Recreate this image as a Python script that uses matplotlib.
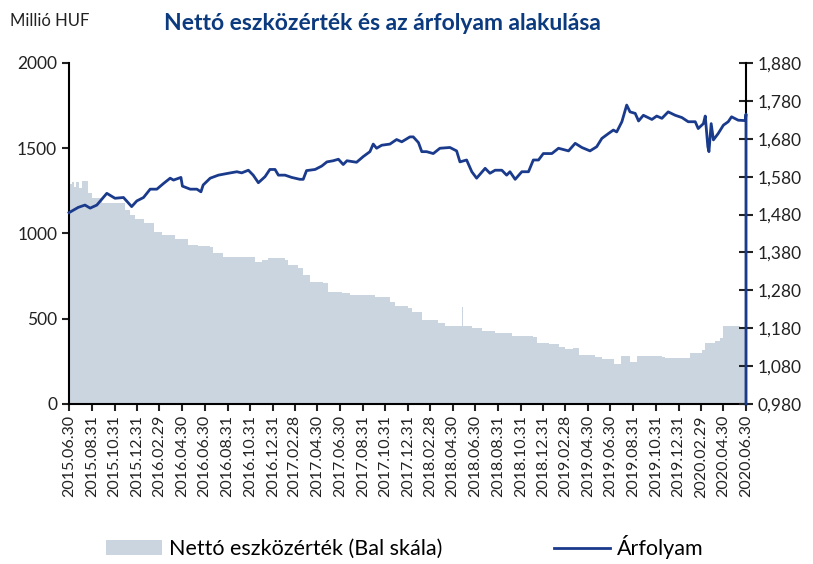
import pandas as pd
import matplotlib.pyplot as plt
import matplotlib.dates as mdates
from matplotlib.ticker import FuncFormatter

plt.rcParams['font.family'] = ['Lato', 'DejaVu Sans']

# Nettó eszközérték (millió HUF), lépcsős sor
nav_dates = ['2015-06-30', '2015-07-07', '2015-07-13', '2015-07-19', '2015-07-27', '2015-08-04',
             '2015-08-20', '2015-08-30', '2015-09-26', '2015-11-10', '2015-11-28', '2015-12-12',
             '2015-12-25', '2016-01-17', '2016-02-13', '2016-03-06', '2016-04-11', '2016-05-17',
             '2016-06-13', '2016-07-15', '2016-07-23', '2016-08-19', '2016-11-13', '2016-12-01',
             '2016-12-19', '2017-02-02', '2017-02-11', '2017-03-10', '2017-03-23', '2017-04-10',
             '2017-05-16', '2017-05-30', '2017-07-05', '2017-07-27', '2017-10-03', '2017-11-12',
             '2017-11-26', '2018-01-01', '2018-01-10', '2018-02-06', '2018-03-23', '2018-04-10',
             '2018-05-26', '2018-05-28', '2018-06-21', '2018-07-18', '2018-08-23', '2018-10-07',
             '2018-12-04', '2018-12-13', '2019-01-14', '2019-02-10', '2019-02-28', '2019-03-20',
             '2019-04-05', '2019-05-20', '2019-06-07', '2019-07-11', '2019-07-29', '2019-08-22',
             '2019-09-09', '2019-11-16', '2019-11-25', '2020-01-31', '2020-03-03', '2020-03-12',
             '2020-04-08', '2020-04-21', '2020-04-30', '2020-06-14', '2020-06-30']
nav_values = [1290, 1304, 1270, 1300, 1265, 1310,
              1237, 1206, 1177, 1177, 1138, 1108,
              1083, 1060, 1011, 991, 966, 933,
              927, 923, 888, 864, 835, 845,
              854, 845, 815, 796, 757, 717,
              708, 659, 649, 639, 629, 600,
              575, 561, 541, 493, 473, 457,
              569, 457, 444, 430, 418, 399,
              395, 360, 352, 336, 321, 327,
              287, 274, 262, 235, 282, 248,
              282, 277, 272, 297, 317, 356,
              371, 385, 457, 453, 444]

# Árfolyam (jobb skála)
px_dates = ['2015-06-30', '2015-07-25', '2015-08-12', '2015-08-26', '2015-09-13', '2015-10-10',
            '2015-11-01', '2015-11-24', '2015-12-16', '2015-12-30', '2016-01-17', '2016-02-04',
            '2016-02-22', '2016-03-11', '2016-03-29', '2016-04-07', '2016-04-27', '2016-05-01',
            '2016-05-22', '2016-06-09', '2016-06-20', '2016-06-26', '2016-07-15', '2016-08-06',
            '2016-09-02', '2016-09-25', '2016-10-08', '2016-10-26', '2016-11-08', '2016-11-22',
            '2016-12-10', '2016-12-23', '2017-01-06', '2017-01-15', '2017-02-02', '2017-02-20',
            '2017-03-14', '2017-03-23', '2017-04-01', '2017-04-24', '2017-05-12', '2017-05-26',
            '2017-06-12', '2017-06-26', '2017-07-09', '2017-07-19', '2017-08-14', '2017-09-01',
            '2017-09-19', '2017-09-28', '2017-10-07', '2017-10-21', '2017-11-12', '2017-11-30',
            '2017-12-14', '2018-01-05', '2018-01-14', '2018-01-28', '2018-02-06', '2018-02-19',
            '2018-03-09', '2018-03-27', '2018-04-23', '2018-05-11', '2018-05-20', '2018-06-07',
            '2018-06-21', '2018-07-04', '2018-07-27', '2018-08-09', '2018-08-23', '2018-09-10',
            '2018-09-23', '2018-10-02', '2018-10-16', '2018-11-03', '2018-11-21', '2018-12-04',
            '2018-12-18', '2018-12-31', '2019-01-23', '2019-02-10', '2019-03-09', '2019-03-27',
            '2019-04-14', '2019-05-06', '2019-05-24', '2019-06-07', '2019-06-25', '2019-07-08',
            '2019-07-17', '2019-07-31', '2019-08-13', '2019-08-22', '2019-09-05', '2019-09-14',
            '2019-09-27', '2019-10-20', '2019-11-02', '2019-11-16', '2019-12-03', '2019-12-22',
            '2020-01-09', '2020-01-26', '2020-02-14', '2020-02-22', '2020-03-07', '2020-03-12',
            '2020-03-19', '2020-03-22', '2020-03-28', '2020-04-03', '2020-04-16', '2020-04-30',
            '2020-05-13', '2020-05-22', '2020-06-09', '2020-06-28', '2020-06-30', '2020-06-30']
px_values = [1.485, 1.499, 1.505, 1.497, 1.505, 1.536,
             1.523, 1.525, 1.501, 1.516, 1.525, 1.547,
             1.547, 1.562, 1.576, 1.571, 1.578, 1.555,
             1.547, 1.547, 1.540, 1.558, 1.576, 1.584,
             1.589, 1.593, 1.590, 1.597, 1.584, 1.564,
             1.580, 1.599, 1.599, 1.584, 1.584, 1.578,
             1.573, 1.573, 1.596, 1.599, 1.608, 1.619,
             1.622, 1.626, 1.612, 1.622, 1.618, 1.633,
             1.646, 1.666, 1.655, 1.663, 1.666, 1.678,
             1.672, 1.685, 1.685, 1.670, 1.646, 1.646,
             1.641, 1.655, 1.657, 1.648, 1.619, 1.624,
             1.593, 1.576, 1.602, 1.589, 1.597, 1.597,
             1.584, 1.593, 1.573, 1.593, 1.593, 1.624,
             1.624, 1.641, 1.641, 1.655, 1.648, 1.668,
             1.657, 1.648, 1.659, 1.681, 1.694, 1.703,
             1.698, 1.725, 1.769, 1.751, 1.747, 1.727,
             1.742, 1.731, 1.740, 1.734, 1.751, 1.742,
             1.736, 1.725, 1.725, 1.707, 1.720, 1.740,
             1.659, 1.646, 1.720, 1.677, 1.694, 1.716,
             1.725, 1.738, 1.729, 1.728, 1.745, 0.980]

fill_color = '#cbd5e0'
line_color = '#1a3a8c'
title_color = '#0b3a7e'

nav_x = pd.to_datetime(nav_dates)
px_x = pd.to_datetime(px_dates)
ticks = pd.date_range('2015-06-30', '2020-06-30', freq='2ME')

fig = plt.figure(figsize=(8.13, 5.64), dpi=100)
ax = fig.add_axes([0.0849, 0.2837, 0.8327, 0.6046])
ax2 = ax.twinx()

ax.fill_between(nav_x, nav_values, 0, step='post', color=fill_color, linewidth=0,
                label='Nettó eszközérték (Bal skála)')
ax2.plot(px_x, px_values, color=line_color, linewidth=2.0, clip_on=False, zorder=3,
         label='Árfolyam')

ax.set_xlim(pd.Timestamp('2015-06-30'), pd.Timestamp('2020-06-30'))
ax.set_ylim(0, 2000)
ax.set_yticks([0, 500, 1000, 1500, 2000])
ax2.set_ylim(0.98, 1.88)
ax2.set_yticks([0.98 + 0.1 * i for i in range(10)])
ax2.yaxis.set_major_formatter(FuncFormatter(lambda v, p: f'{v:.3f}'.replace('.', ',')))

ax.set_xticks(ticks)
ax.xaxis.set_major_formatter(mdates.DateFormatter('%Y.%m.%d'))
for lbl in ax.get_xticklabels():
    lbl.set_rotation(90)

for a in (ax, ax2):
    a.spines['top'].set_visible(False)
ax.spines['right'].set_visible(False)
for s in ('left', 'bottom'):
    ax.spines[s].set_linewidth(1.5)
ax2.spines['right'].set_linewidth(1.5)
ax2.spines['left'].set_visible(False)
ax2.spines['bottom'].set_visible(False)

ax.tick_params(axis='y', direction='out', length=5, width=1.5, labelsize=12.5, colors='#222222')
ax.tick_params(axis='x', direction='out', length=5, width=1.5, labelsize=11.5, colors='#222222', pad=3)
ax2.tick_params(axis='y', direction='inout', length=10, width=1.5, labelsize=12.5, colors='#222222')

fig.text(0.012, 0.962, 'Millió HUF', fontsize=12, color='#222222', va='center')
fig.text(0.471, 0.958, 'Nettó eszközérték és az árfolyam alakulása', fontsize=16.5,
         fontweight='bold', color=title_color, ha='center', va='center')

h1, l1 = ax.get_legend_handles_labels()
h2, l2 = ax2.get_legend_handles_labels()
fig.legend(h1 + h2, l1 + l2, loc='center', bbox_to_anchor=(0.498, 0.03), ncol=2,
           frameon=False, fontsize=15.5, columnspacing=5.2, handlelength=2.6, handletextpad=0.3,
           borderpad=0.1)

fig.savefig('out.png', dpi=100)
